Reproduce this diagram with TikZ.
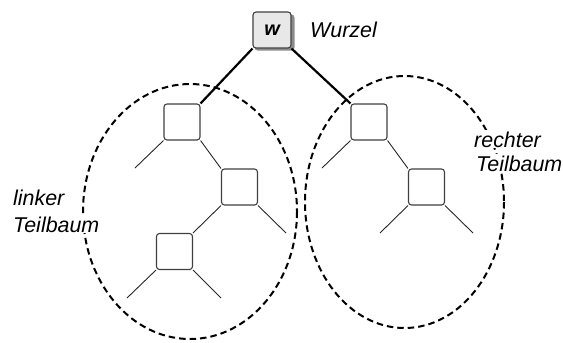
\documentclass[tikz,border=0pt]{standalone}
\usepackage{fontspec}
\setmainfont{Liberation Sans}
\begin{document}
\begin{tikzpicture}[x=1bp,y=-1bp,
  tbox/.style={draw=black!75,line width=1.1bp,rounded corners=3bp,minimum width=36bp,minimum height=36bp,inner sep=0pt,fill=white},
  rootbox/.style={tbox,minimum width=38bp,minimum height=36bp,fill=black!9},
  edge/.style={line width=0.9bp,black!85},
  thick edge/.style={line width=2.2bp,black},
  region/.style={line width=2bp,dash pattern=on 6.5bp off 4bp},
  lbl/.style={font=\fontsize{21.5}{25}\selectfont\itshape,inner sep=1bp,fill=white,anchor=base west}]
\useasboundingbox (0,0) rectangle (563,342);
% regions
\draw[region] (190,211.5) ellipse [x radius=107, y radius=127.5];
\draw[region] (404.5,202) ellipse [x radius=99.5, y radius=126];
% labels
\node[lbl] (l1) at (12,205) {linker};
\node[lbl] (l2) at (12,232) {Teilbaum};
\node[lbl] (r1t) at (473,147) {rechter};
\node[lbl] (r2t) at (475,171) {Teilbaum};
\node[lbl,fill=none] (wz) at (309,37) {Wurzel};
% root
\fill[black!45,rounded corners=3bp] (254.5,14.5) rectangle (294.5,50.5);
\node[rootbox] (root) at (272,30) {\fontsize{20}{22}\selectfont\bfseries\itshape w};
% left tree
\node[tbox] (b1) at (182,122) {};
\node[tbox] (b2) at (239.5,187) {};
\node[tbox] (b3) at (174.5,251.5) {};
% right tree
\node[tbox] (c1) at (369,122) {};
\node[tbox] (c2) at (426.5,187) {};
% leaves
\coordinate (b1l) at (135,168);
\coordinate (b2r) at (286,233);
\coordinate (b3l) at (127,298);
\coordinate (b3r) at (221,298);
\coordinate (c1l) at (322,168);
\coordinate (c2l) at (380,233);
\coordinate (c2r) at (473,233);
% connectors
\draw[thick edge] (root.south west) -- (b1.north east);
\draw[thick edge] (root.south east) -- (c1.north west);
\draw[edge] (b1.south west) -- (b1l);
\draw[edge] (b1.south east) -- (b2.north west);
\draw[edge] (b2.south west) -- (b3.north east);
\draw[edge] (b2.south east) -- (b2r);
\draw[edge] (b3.south west) -- (b3l);
\draw[edge] (b3.south east) -- (b3r);
\draw[edge] (c1.south west) -- (c1l);
\draw[edge] (c1.south east) -- (c2.north west);
\draw[edge] (c2.south west) -- (c2l);
\draw[edge] (c2.south east) -- (c2r);
\end{tikzpicture}
\end{document}
